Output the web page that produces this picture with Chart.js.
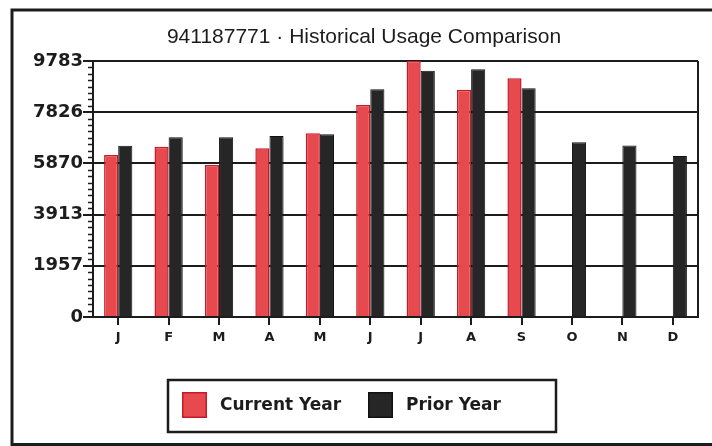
<!DOCTYPE html>
<html><head><meta charset="utf-8">
<script src="https://cdn.jsdelivr.net/npm/chart.js@4/dist/chart.umd.min.js"></script>
<style>html,body{margin:0;padding:0;background:#fff}#wrap{width:712px;height:446px}</style>
</head><body><div id="wrap"><canvas id="c" width="712" height="446"></canvas></div>
<script>
const TITLE = '941187771 \u00B7 Historical Usage Comparison';
const MONTHS = ['J','F','M','A','M','J','J','A','S','O','N','D'];
const SERIES_NAMES = ['Current Year', 'Prior Year'];
const CURRENT_YEAR = [6190, 6510, 5810, 6450, 7020, 8100, 9780, 8680, 9120, null, null, null];
const PRIOR_YEAR = [6540, 6870, 6870, 6920, 6980, 8700, 9410, 9470, 8740, 6680, 6550, 6150];
const Y_TICKS = [0, 1957, 3913, 5870, 7826, 9783];
const Y_TICK_LABELS = ['0', '1957', '3913', '5870', '7826', '9783'];

const INK = '#1c1c1c';
const RED = '#e64a4e';
const RED_EDGE = '#c41a2a';
const DARK = '#262626';

const decor = {
  id: 'decor',
  beforeDatasetsDraw(chart) {
    const c = chart.ctx, a = chart.chartArea, y = chart.scales.y;
    c.save();
    c.strokeStyle = INK;
    c.lineWidth = 2;
    c.beginPath(); c.moveTo(a.right, a.top); c.lineTo(a.right, a.bottom); c.stroke();
    c.lineWidth = 1.5;
    for (let i = 0; i < Y_TICKS.length - 1; i++) {
      const lo = Y_TICKS[i], hi = Y_TICKS[i + 1];
      for (let k = 1; k < 8; k++) {
        const py = Math.round(y.getPixelForValue(lo + (hi - lo) * k / 8)) + 0.5;
        c.beginPath(); c.moveTo(a.left - 5, py); c.lineTo(a.left, py); c.stroke();
      }
    }
    c.restore();
  },
  afterDraw(chart) {
    const c = chart.ctx;
    c.save();
    c.strokeStyle = INK; c.lineWidth = 3;
    c.beginPath(); c.moveTo(712, 10); c.lineTo(12, 10); c.lineTo(12, 444.5); c.lineTo(712, 444.5); c.stroke();
    c.fillStyle = INK;
    c.font = '21px "Liberation Sans", Arial, sans-serif';
    c.textAlign = 'center'; c.textBaseline = 'middle';
    c.fillText(TITLE, 364, 37);
    c.lineWidth = 2.5;
    c.strokeRect(168, 380, 388, 52);
    const ds = chart.data.datasets;
    const items = [{x: 182}, {x: 368}];
    c.font = 'bold 17px "DejaVu Sans", sans-serif';
    c.textAlign = 'left';
    ds.forEach((d, i) => {
      const bx = items[i].x;
      c.fillStyle = d.backgroundColor;
      c.fillRect(bx, 392, 25, 26);
      c.strokeStyle = d.borderColor; c.lineWidth = 1.5;
      c.strokeRect(bx + 0.75, 392.75, 23.5, 24.5);
      c.fillStyle = INK;
      c.fillText(d.label, bx + 38, 406);
    });
    c.restore();
  }
};

new Chart(document.getElementById('c'), {
  type: 'bar',
  data: {
    labels: MONTHS,
    datasets: [
      { label: SERIES_NAMES[0], data: CURRENT_YEAR, backgroundColor: RED, borderColor: RED_EDGE, borderWidth: 1.5,
        categoryPercentage: 0.56, barPercentage: 1.0 },
      { label: SERIES_NAMES[1], data: PRIOR_YEAR, backgroundColor: DARK, borderColor: '#111', borderWidth: 1,
        categoryPercentage: 0.56, barPercentage: 1.0 }
    ]
  },
  options: {
    responsive: false,
    animation: false,
    devicePixelRatio: 1,
    layout: { padding: { left: 12, right: 14, top: 61, bottom: 99 } },
    plugins: { legend: { display: false }, title: { display: false }, tooltip: { enabled: false } },
    scales: {
      x: {
        afterFit(s) { s.height = 30; },
        grid: { offset: false, drawOnChartArea: false, tickLength: 8, color: INK, lineWidth: 2 },
        border: { display: true, color: INK, width: 2 },
        ticks: { color: INK, padding: 5, font: { family: '"DejaVu Sans", sans-serif', size: 13, weight: 'bold' } }
      },
      y: {
        min: 0, max: 9783,
        afterFit(s) { s.width = 81; },
        afterBuildTicks(s) { s.ticks = Y_TICKS.map(v => ({ value: v })); },
        grid: { color: INK, lineWidth: 2, tickLength: 10 },
        border: { display: true, color: INK, width: 2 },
        ticks: {
          color: INK, padding: 0,
          font: { family: '"DejaVu Sans", sans-serif', size: 18, weight: 'bold' },
          callback: (v) => Y_TICK_LABELS[Y_TICKS.indexOf(v)]
        }
      }
    }
  },
  plugins: [decor]
});
</script></body></html>
